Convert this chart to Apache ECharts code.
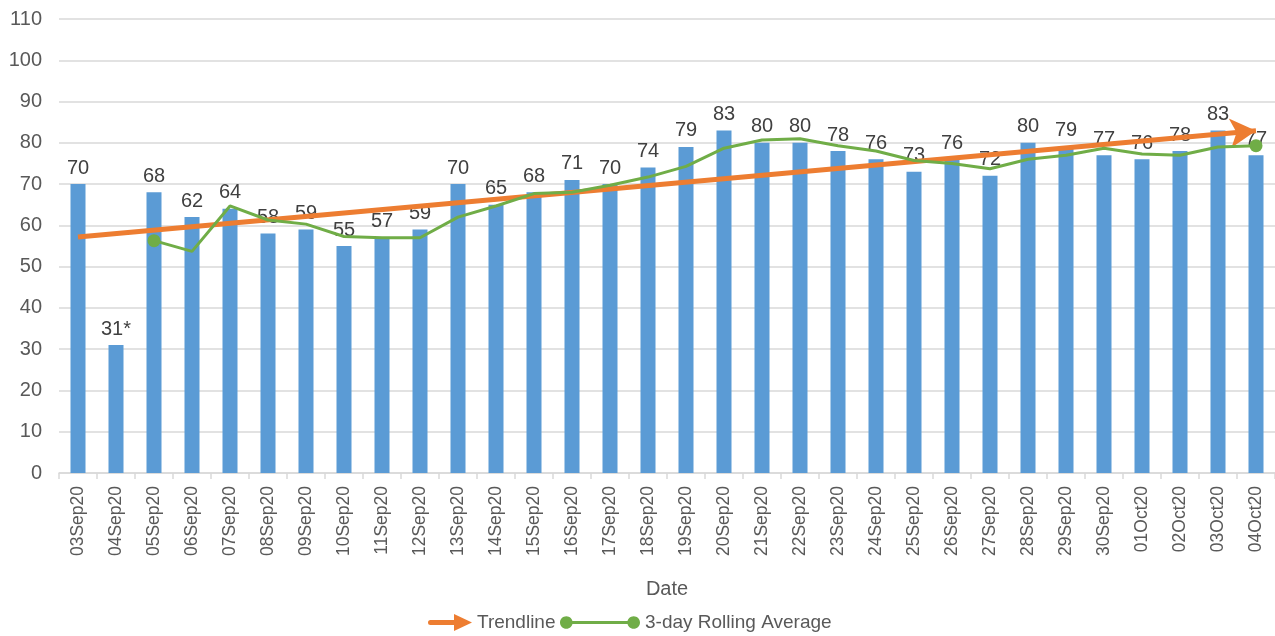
<!DOCTYPE html>
<html><head><meta charset="utf-8">
<script src="https://cdn.jsdelivr.net/npm/echarts@6/dist/echarts.min.js"></script>
<style>html,body{margin:0;padding:0;background:#fff}#c{width:1275px;height:636px}</style>
</head><body><div id="c"></div>
<script>
const dates = ['03Sep20','04Sep20','05Sep20','06Sep20','07Sep20','08Sep20','09Sep20','10Sep20','11Sep20','12Sep20','13Sep20','14Sep20','15Sep20','16Sep20','17Sep20','18Sep20','19Sep20','20Sep20','21Sep20','22Sep20','23Sep20','24Sep20','25Sep20','26Sep20','27Sep20','28Sep20','29Sep20','30Sep20','01Oct20','02Oct20','03Oct20','04Oct20'];
const dailyValues = [70,31,68,62,64,58,59,55,57,59,70,65,68,71,70,74,79,83,80,80,78,76,73,76,72,80,79,77,76,78,83,77];
const barLabels = ['70','31*','68','62','64','58','59','55','57','59','70','65','68','71','70','74','79','83','80','80','78','76','73','76','72','80','79','77','76','78','83','77'];
const rollingAvg = [null,null,56.3,53.7,64.7,61.3,60.3,57.3,57.0,57.0,62.0,64.7,67.7,68.0,69.7,71.7,74.3,78.7,80.7,81.0,79.3,78.0,75.7,75.0,73.7,76.0,77.0,78.7,77.3,77.0,79.0,79.3];
const trendStart = 57.2, trendEnd = 82.9;
const yTicks = {min:0, max:110, interval:10};

const FONT = 'Liberation Sans';
const TXT = '#595959';
const firstIdx = rollingAvg.findIndex(v => v !== null);
const lastIdx = rollingAvg.length - 1;
const rollingData = rollingAvg.map((v,i) => ({value:v, symbolSize:(i===firstIdx||i===lastIdx)?13:0}));

function circ(cx){
  const l=cx-6, r=cx+6;
  return `M${l},6 C${l},2.7 ${cx-3.3},0 ${cx},0 C${cx+3.3},0 ${r},2.7 ${r},6 C${r},9.3 ${cx+3.3},12 ${cx},12 C${cx-3.3},12 ${l},9.3 ${l},6 Z `;
}
const rollIcon = 'path://' + circ(6) + 'M10,4.5 L66,4.5 L66,7.5 L10,7.5 Z ' + circ(70);

const chart = echarts.init(document.getElementById('c'));
chart.setOption({
  animation:false,
  textStyle:{fontFamily:FONT},
  grid:{left:59, right:-2, top:19, bottom:163, containLabel:false},
  legend:[{
    data:[{name:'Trendline', icon:'path://M2.5,6 L26,6 L26,0 L44,8.5 L26,17 L26,11 L2.5,11 A2.5,2.5 0 0 1 2.5,6 Z'}],
    left:428, top:613, padding:0, itemWidth:44, itemHeight:17, itemGap:10,
    textStyle:{fontSize:19, color:TXT, fontFamily:FONT}
  },{
    data:[{name:'3-day Rolling Average', icon:rollIcon, itemStyle:{borderWidth:0}}],
    left:560, top:613, padding:0, itemWidth:80, itemHeight:15, itemGap:2,
    textStyle:{fontSize:19, color:TXT, fontFamily:FONT}
  }],
  xAxis:{
    type:'category', data:dates, boundaryGap:true,
    name:'Date', nameLocation:'middle', nameGap:106,
    nameTextStyle:{fontSize:20, color:TXT, fontFamily:FONT},
    axisLine:{lineStyle:{color:'#D9D9D9', width:1.5}},
    axisTick:{show:true, length:6, lineStyle:{color:'#D9D9D9', width:1.5}},
    axisLabel:{rotate:90, fontSize:17.5, color:TXT, margin:13, fontFamily:FONT}
  },
  yAxis:{
    type:'value', min:yTicks.min, max:yTicks.max, interval:yTicks.interval,
    axisLine:{show:false}, axisTick:{show:false},
    axisLabel:{fontSize:20, color:TXT, margin:17, fontFamily:FONT},
    splitLine:{lineStyle:{color:'#D9D9D9', width:1.5}}
  },
  series:[{
    name:'Daily', type:'bar', data:dailyValues, barWidth:15,
    itemStyle:{color:'#5B9BD5'},
    label:{show:true, position:'top', distance:6, fontSize:20, color:'#404040', fontFamily:FONT,
      formatter:p => barLabels[p.dataIndex]},
    z:1
  },{
    name:'Trendline', type:'line', data:[], itemStyle:{color:'#ED7D31'}, lineStyle:{color:'#ED7D31'},
    markLine:{
      silent:true, symbol:['none','arrow'], symbolSize:[22,26],
      label:{show:false},
      lineStyle:{color:'#ED7D31', width:5, type:'solid'},
      data:[[{coord:[dates[0], trendStart]},{coord:[dates[dates.length-1], trendEnd]}]]
    },
    z:4
  },{
    name:'3-day Rolling Average', type:'line', data:rollingData,
    symbol:'circle', showSymbol:true,
    itemStyle:{color:'#70AD47'}, lineStyle:{color:'#70AD47', width:3},
    z:5
  }]
});
</script></body></html>
